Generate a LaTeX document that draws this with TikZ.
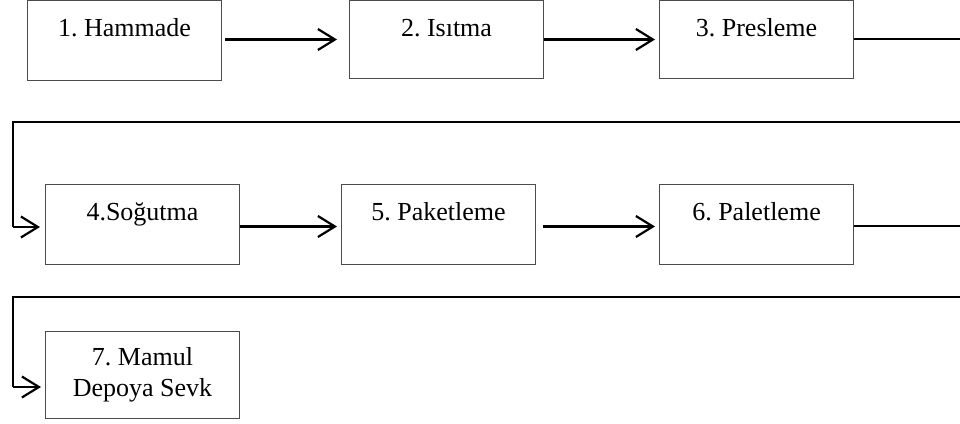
\documentclass[tikz,border=0pt]{standalone}
\usepackage{fontspec}
\setmainfont{Liberation Serif}
\usetikzlibrary{arrows.meta}
\frenchspacing

\tikzset{
  stage/.style={draw=black!70, line width=1pt, rectangle, inner sep=0pt,
    anchor=north west, minimum width=194pt, align=center,
    font=\fontsize{26}{31}\selectfont},
  oneline/.style={stage, text height=36pt, text depth=44pt},
  flow/.style={line width=2.2pt, -{Straight Barb[length=17pt,width=21pt]}},
  wrap/.style={line width=1.6pt},
}

\begin{document}
\begin{tikzpicture}[x=1pt,y=-1pt]
  \useasboundingbox (0,0) rectangle (960,423);
  \clip (0,0) rectangle (960,423);

  % first row
  \node[oneline] (b1) at (27,0)   {1. Hammade};
  \node[oneline, text depth=42pt] (b2) at (349,0)  {2. Isıtma};
  \node[oneline, text depth=42pt] (b3) at (659,0)  {3. Presleme};

  % second row
  \node[oneline] (b4) at (45,184)  {4.Soğutma};
  \node[oneline] (b5) at (341,184) {5. Paketleme};
  \node[oneline] (b6) at (659,184) {6. Paletleme};

  % third row
  \node[stage, minimum height=87pt] (b7) at (45,331) {7. Mamul\\Depoya Sevk};

  % straight links
  \draw[flow, shorten <=3pt, shorten >=12pt] (b1.east |- b2.west) -- (b2.west);
  \draw[flow, shorten >=4pt] (b2.east) -- (b3.west);
  \draw[flow, shorten >=4pt] ([yshift=-2pt]b4.east) -- ([yshift=-2pt]b5.west);
  \draw[flow, shorten <=7pt, shorten >=4pt] ([yshift=-2pt]b5.east) -- ([yshift=-2pt]b6.west);

  % return lines wrapping to the next row
  \coordinate (r1) at (968,39);
  \coordinate (r2) at (968,122);
  \coordinate (l1) at (13,122);
  \coordinate (l2) at (13,227);
  \draw[wrap] (b3.east |- r1) -- (r1) -- (r2) -- (l1) -- (l2);
  \draw[flow, shorten >=5pt] (l2) -- (l2 -| b4.west);

  \coordinate (r3) at (968,226);
  \coordinate (r4) at (968,297);
  \coordinate (l3) at (13,297);
  \coordinate (l4) at (13,387);
  \draw[wrap] (b6.east |- r3) -- (r3) -- (r4) -- (l3) -- (l4);
  \draw[flow, shorten >=4pt] (l4) -- (l4 -| b7.west);
\end{tikzpicture}
\end{document}
